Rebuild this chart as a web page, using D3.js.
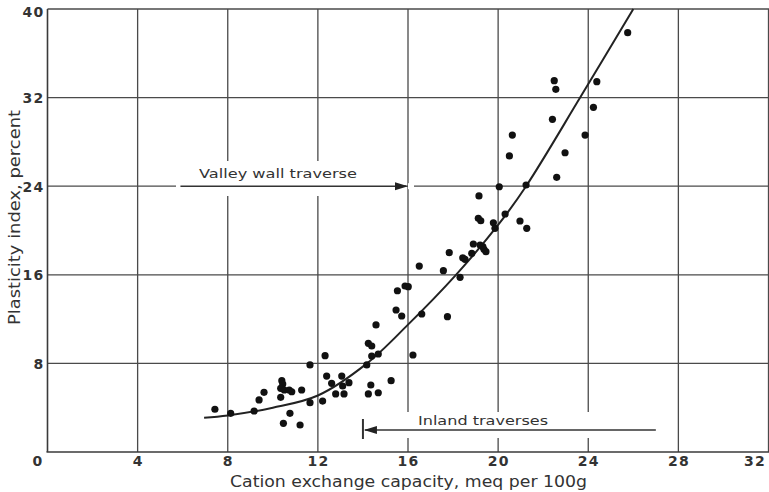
<!DOCTYPE html>
<html>
<head>
<meta charset="utf-8">
<script src="https://cdn.jsdelivr.net/npm/d3@7"></script>
<style>
  html, body { margin: 0; padding: 0; background: #fff; }
  svg { display: block; }
  text { font-family: "DejaVu Sans", sans-serif; fill: #333; }
</style>
</head>
<body>
<svg id="chart" width="769" height="492"></svg>
<script>
// ---- data ----
const xTicks = [0, 4, 8, 12, 16, 20, 24, 28, 32];
const yTicks = [0, 8, 16, 24, 32, 40];
const xLabel = "Cation exchange capacity, meq per 100g";
const yLabel = "Plasticity index, percent";

const cec = [
  7.43, 8.13, 9.17, 9.39, 9.61, 10.35, 10.40, 10.44, 10.35, 10.51, 10.73, 10.84, 11.28,
  10.76, 10.47, 11.21, 11.65, 11.65, 12.32, 12.21, 12.39, 12.61, 13.06, 13.10, 13.38,
  12.79, 13.16, 14.24, 14.39, 14.39, 14.68, 14.17, 14.24, 14.35, 14.68, 15.25, 16.22,
  14.58, 15.47, 15.72, 15.53, 15.87, 16.01, 16.61, 16.50, 17.57, 17.83, 17.75, 18.31,
  18.43, 18.53, 18.83, 18.90, 19.20, 19.32, 19.37, 19.46, 20.31, 19.12, 19.23, 19.79,
  19.86, 20.97, 21.27, 19.15, 20.05, 21.24, 20.50, 20.63, 22.60, 22.97, 22.41, 22.49,
  22.56, 23.86, 24.23, 24.38, 25.75
];
const plasticity = [
  3.86, 3.49, 3.70, 4.70, 5.39, 4.94, 6.44, 6.14, 5.75, 5.60, 5.60, 5.44, 5.60,
  3.49, 2.59, 2.44, 7.86, 4.45, 8.70, 4.60, 6.86, 6.20, 6.86, 5.96, 6.26,
  5.24, 5.24, 9.81, 9.57, 8.67, 8.85, 7.86, 5.24, 6.05, 5.35, 6.44, 8.76,
  11.47, 12.82, 12.28, 14.56, 14.99, 14.93, 12.46, 16.79, 16.37, 18.00, 12.22, 15.77,
  17.54, 17.40, 17.94, 18.78, 18.69, 18.54, 18.30, 18.09, 21.49, 21.10, 20.88, 20.70,
  20.20, 20.86, 20.20, 23.12, 23.95, 24.11, 26.73, 28.62, 24.80, 27.02, 30.04, 33.53,
  32.75, 28.62, 31.12, 33.44, 37.86
];

// fitted curve
const curveX = [6.95, 8, 10, 12, 14.18, 16, 18.13, 20, 21.24, 23.64, 26.0];
const curveY = [3.1, 3.3, 4.0, 5.1, 8.0, 11.5, 16.0, 20.5, 24.0, 32.0, 40.0];

// annotations
const annValley = { label: "Valley wall traverse", from: 5.9, to: 16.0, y: 24 };
const annInland = { label: "Inland traverses", from: 27.0, to: 14.0, y: 2.0 };

// ---- drawing ----
const svg = d3.select("#chart");
const x = d3.scaleLinear().domain([0, 32]).range([47.5, 768.5]);
const y = d3.scaleLinear().domain([0, 40]).range([452, 9]);

const gridColor = "#4a4a4a";

// grid lines
svg.append("g").selectAll("line").data(xTicks.filter(d => d > 0))
  .join("line")
  .attr("x1", d => x(d)).attr("x2", d => x(d))
  .attr("y1", y(0)).attr("y2", y(40))
  .attr("stroke", gridColor).attr("stroke-width", 1.3);

svg.append("g").selectAll("line").data(yTicks.filter(d => d > 0))
  .join("line")
  .attr("x1", x(0)).attr("x2", 769)
  .attr("y1", d => y(d)).attr("y2", d => y(d))
  .attr("stroke", gridColor).attr("stroke-width", 1.3);

// axes lines
svg.append("line").attr("x1", x(0)).attr("x2", x(0)).attr("y1", y(0)).attr("y2", y(40))
  .attr("stroke", "#3a3a3a").attr("stroke-width", 1.6);
svg.append("line").attr("x1", x(0) - 1).attr("x2", 769).attr("y1", y(0)).attr("y2", y(0))
  .attr("stroke", "#3a3a3a").attr("stroke-width", 1.6);

// annotation backgrounds (white boxes interrupting the grid)
svg.append("rect").attr("x", 176).attr("y", 161).attr("width", 228).attr("height", 35).attr("fill", "#fff");
svg.append("rect").attr("x", 408).attr("y", y(annValley.y) - 3).attr("width", 6).attr("height", 6).attr("fill", "#fff");
svg.append("rect").attr("x", 355).attr("y", 412).attr("width", 305).attr("height", 26).attr("fill", "#fff");

// x axis labels
const xAxis = d3.axisBottom(x).tickValues(xTicks).tickSize(0).tickPadding(4)
  .tickFormat(d3.format("d"));
const gx = svg.append("g").attr("transform", `translate(0,${y(0)})`).call(xAxis);
gx.select(".domain").remove();
gx.selectAll("text")
  .attr("font-size", 14).attr("font-weight", "bold").attr("fill", "#3a3a3a")
  .attr("letter-spacing", 1.2)
  .attr("font-family", "DejaVu Sans, sans-serif")
  .attr("dx", d => d === 0 ? -10 : (d === 32 ? -14 : 0));

// y axis labels (0 shared with x axis)
const yAxis = d3.axisLeft(y).tickValues(yTicks.filter(d => d > 0)).tickSize(0).tickPadding(3)
  .tickFormat(d3.format("d"));
const gy = svg.append("g").attr("transform", `translate(${x(0)},0)`).call(yAxis);
gy.select(".domain").remove();
gy.selectAll("text")
  .attr("font-size", 14).attr("font-weight", "bold").attr("fill", "#3a3a3a")
  .attr("letter-spacing", 1.2)
  .attr("font-family", "DejaVu Sans, sans-serif")
  .attr("dy", d => d === 40 ? "0.5em" : "0.35em");

// axis titles
svg.append("text")
  .attr("x", 230).attr("y", 487)
  .attr("font-size", 15).attr("fill", "#3a3a3a")
  .attr("textLength", 357).attr("lengthAdjust", "spacingAndGlyphs")
  .text(xLabel);

svg.append("text")
  .attr("transform", "translate(20,325) rotate(-90)")
  .attr("font-size", 15).attr("fill", "#3a3a3a")
  .attr("textLength", 215).attr("lengthAdjust", "spacingAndGlyphs")
  .text(yLabel);

// fitted curve
const curvePts = curveX.map((d, i) => [d, curveY[i]]);
svg.append("path")
  .datum(curvePts)
  .attr("fill", "none").attr("stroke", "#222").attr("stroke-width", 2)
  .attr("d", d3.line().x(d => x(d[0])).y(d => y(d[1])).curve(d3.curveCatmullRom.alpha(0.5)));

// points
const pts = cec.map((d, i) => [d, plasticity[i]]);
svg.append("g").selectAll("circle").data(pts).join("circle")
  .attr("cx", d => x(d[0])).attr("cy", d => y(d[1])).attr("r", 3.6)
  .attr("fill", "#111");

// annotation: valley wall traverse
svg.append("text")
  .attr("x", 199).attr("y", 178)
  .attr("font-size", 12.5).attr("fill", "#333")
  .attr("textLength", 158).attr("lengthAdjust", "spacingAndGlyphs")
  .text(annValley.label);
svg.append("line")
  .attr("x1", x(annValley.from)).attr("x2", x(annValley.to) - 2)
  .attr("y1", y(annValley.y)).attr("y2", y(annValley.y))
  .attr("stroke", "#333").attr("stroke-width", 1.6);
svg.append("path")
  .attr("d", `M${x(annValley.to)},${y(annValley.y)} l-13,-4 l0,8 z`)
  .attr("fill", "#222");

// annotation: inland traverses
svg.append("text")
  .attr("x", 418).attr("y", 425)
  .attr("font-size", 12.5).attr("fill", "#333")
  .attr("textLength", 130).attr("lengthAdjust", "spacingAndGlyphs")
  .text(annInland.label);
const yi = 430;
svg.append("line")
  .attr("x1", x(annInland.from)).attr("x2", x(annInland.to) + 2)
  .attr("y1", yi).attr("y2", yi)
  .attr("stroke", "#333").attr("stroke-width", 1.6);
svg.append("line")
  .attr("x1", x(annInland.to)).attr("x2", x(annInland.to))
  .attr("y1", 419).attr("y2", 439)
  .attr("stroke", "#333").attr("stroke-width", 2);
svg.append("path")
  .attr("d", `M${x(annInland.to) + 1},${yi} l13,-4 l0,8 z`)
  .attr("fill", "#222");
</script>
</body>
</html>
